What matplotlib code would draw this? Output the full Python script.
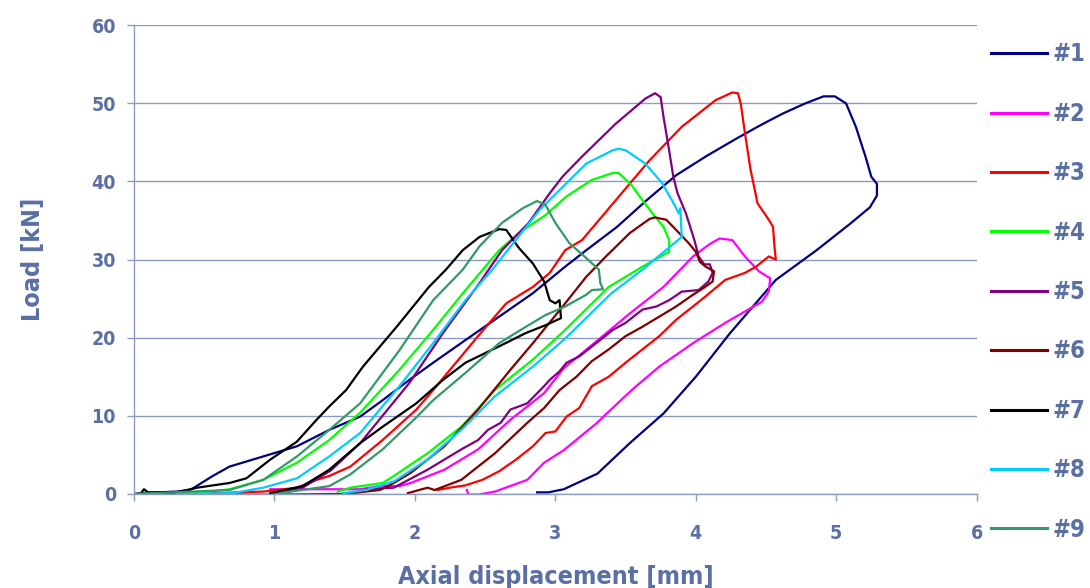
import matplotlib
matplotlib.use("Agg")
import matplotlib.pyplot as plt

x1 = [0.05, 0.30, 0.40, 0.56, 0.68, 0.92, 1.16, 1.39, 1.61, 1.77, 1.96, 2.13, 2.36, 2.60, 2.84, 3.07, 3.22,
      3.44, 3.65, 3.86, 4.08, 4.29, 4.46, 4.62, 4.78, 4.91, 4.99, 5.07, 5.14, 5.21, 5.25, 5.29, 5.29, 5.24,
      5.10, 4.86, 4.57, 4.24, 4.00, 3.77, 3.53, 3.30, 3.06, 2.95, 2.87]
y1 = [0.1, 0.3, 0.5, 2.3, 3.5, 4.8, 6.1, 8.2, 9.9, 12.0, 14.6, 16.8, 19.7, 22.7, 25.7, 29.1, 31.2,
      34.2, 37.6, 40.8, 43.3, 45.5, 47.2, 48.7, 50.0, 50.9, 50.9, 50.0, 47.0, 43.1, 40.6, 39.7, 38.2, 36.7,
      34.6, 31.2, 27.4, 20.5, 15.0, 10.3, 6.5, 2.6, 0.6, 0.2, 0.2]

x2 = [0.97, 1.30, 1.61, 1.75, 1.89, 1.97, 2.21, 2.45, 2.68, 2.92, 3.06, 3.29, 3.53, 3.77, 3.98, 4.10, 4.17,
      4.26, 4.35, 4.45, 4.53, 4.52, 4.47, 4.21, 3.98, 3.74, 3.55, 3.29, 3.06, 2.92, 2.80, 2.57, 2.45, 2.38, 2.37]
y2 = [0.6, 0.6, 0.6, 1.0, 1.0, 1.4, 3.1, 5.7, 9.5, 12.9, 16.1, 19.5, 23.1, 26.5, 30.4, 32.0, 32.7,
      32.5, 30.4, 28.5, 27.6, 25.9, 24.6, 21.9, 19.3, 16.3, 13.4, 9.0, 5.6, 4.0, 1.8, 0.3, -0.1, -0.1, 0.5]

x3 = [0.40, 0.92, 1.16, 1.30, 1.39, 1.54, 1.77, 2.01, 2.13, 2.44, 2.65, 2.84, 2.96, 3.07, 3.19, 3.43, 3.67,
      3.90, 4.14, 4.26, 4.30, 4.32, 4.35, 4.39, 4.44, 4.52, 4.55, 4.56, 4.57, 4.52, 4.43, 4.35, 4.21, 4.07,
      3.98, 3.86, 3.74, 3.62, 3.50, 3.38, 3.26, 3.17, 3.08, 3.00, 2.93, 2.84, 2.72, 2.60, 2.48, 2.36, 2.25, 2.16]
y3 = [0.0, 0.3, 0.8, 1.8, 2.3, 3.5, 6.9, 10.8, 13.3, 20.0, 24.4, 26.5, 28.3, 31.2, 32.5, 37.6, 42.7,
      47.0, 50.4, 51.4, 51.3, 50.0, 46.2, 41.5, 37.2, 35.1, 34.2, 31.7, 30.0, 30.4, 29.1, 28.3, 27.4, 25.3,
      24.0, 22.3, 20.2, 18.5, 16.8, 15.0, 13.8, 11.0, 9.9, 8.0, 7.8, 6.1, 4.4, 2.9, 1.8, 1.1, 0.8, 0.5]

x4 = [0.00, 0.45, 0.68, 0.92, 1.16, 1.39, 1.61, 1.89, 2.13, 2.36, 2.60, 2.74, 2.93, 3.08, 3.26, 3.41, 3.45,
      3.54, 3.62, 3.71, 3.77, 3.81, 3.81, 3.62, 3.38, 3.07, 2.84, 2.57, 2.33, 2.09, 1.85, 1.77, 1.54, 1.45]
y4 = [0.0, 0.1, 0.6, 1.8, 4.0, 6.9, 10.4, 15.9, 21.0, 26.1, 31.2, 33.4, 35.7, 38.1, 40.2, 41.1, 41.1,
      39.6, 37.6, 35.5, 34.2, 32.5, 31.0, 29.1, 26.5, 21.0, 17.2, 13.3, 8.6, 5.2, 2.3, 1.4, 0.8, 0.3]

x5 = [1.00, 1.20, 1.40, 1.61, 1.96, 2.20, 2.46, 2.62, 2.81, 2.96, 3.05, 3.19, 3.43, 3.64, 3.71, 3.75, 3.77,
      3.81, 3.84, 3.87, 3.93, 3.99, 4.02, 4.06, 4.10, 4.12, 4.09, 4.02, 3.90, 3.81, 3.72, 3.62, 3.50, 3.41,
      3.29, 3.17, 3.08, 3.03, 2.96, 2.92, 2.80, 2.68, 2.61, 2.52, 2.45, 2.33, 2.09, 1.85, 1.65]
y5 = [0.2, 0.8, 3.0, 6.5, 14.2, 20.6, 27.0, 31.2, 34.7, 38.5, 40.6, 43.2, 47.4, 50.6, 51.3, 50.8, 48.3,
      44.0, 40.6, 38.5, 35.9, 32.5, 30.4, 29.4, 29.4, 28.3, 27.2, 26.1, 25.9, 24.8, 24.0, 23.6, 21.9, 21.0,
      19.3, 17.6, 16.8, 15.7, 14.6, 13.8, 11.6, 10.8, 9.1, 8.2, 6.9, 5.7, 3.1, 0.8, 0.6]

x6 = [0.00, 1.00, 1.50, 1.75, 1.85, 1.97, 2.21, 2.45, 2.68, 2.84, 3.07, 3.22, 3.36, 3.53, 3.67, 3.71, 3.79,
      3.86, 3.95, 4.00, 4.03, 4.07, 4.13, 4.12, 4.05, 3.98, 3.86, 3.74, 3.62, 3.50, 3.38, 3.26, 3.15, 3.03,
      2.92, 2.80, 2.57, 2.33, 2.14, 2.09, 1.95]
y6 = [-0.1, -0.1, 0.0, 0.5, 1.4, 2.7, 6.1, 10.8, 15.9, 19.3, 24.4, 27.8, 30.4, 33.4, 35.2, 35.4, 35.1,
      33.8, 32.1, 31.0, 29.7, 29.1, 28.5, 27.2, 26.3, 25.5, 24.0, 22.7, 21.4, 20.2, 18.5, 17.0, 15.0, 13.3,
      11.0, 9.1, 5.2, 1.8, 0.5, 0.8, 0.1]

x7 = [0.00, 0.05, 0.07, 0.10, 0.30, 0.45, 0.68, 0.80, 0.97, 1.16, 1.30, 1.39, 1.51, 1.63, 1.87, 2.10, 2.22,
      2.34, 2.46, 2.60, 2.65, 2.74, 2.84, 2.92, 2.96, 3.00, 3.03, 3.04, 2.93, 2.79, 2.60, 2.36, 2.20, 2.01,
      1.77, 1.61, 1.39, 1.20, 0.97]
y7 = [0.0, 0.1, 0.6, 0.2, 0.2, 0.8, 1.4, 2.0, 4.4, 6.7, 9.5, 11.2, 13.3, 16.3, 21.4, 26.5, 28.7,
      31.2, 32.9, 33.9, 33.8, 31.5, 29.5, 27.2, 24.8, 24.4, 24.8, 22.5, 21.6, 20.6, 18.9, 16.8, 14.6, 11.6,
      8.6, 6.5, 3.1, 1.0, 0.1]

x8 = [0.30, 0.70, 0.92, 1.16, 1.39, 1.61, 1.89, 2.13, 2.36, 2.55, 2.70, 2.89, 3.08, 3.22, 3.41, 3.45, 3.50,
      3.64, 3.76, 3.83, 3.88, 3.89, 3.90, 3.62, 3.40, 3.07, 2.84, 2.57, 2.33, 2.09, 1.85, 1.65, 1.49]
y8 = [0.0, 0.1, 0.8, 2.0, 4.8, 7.8, 13.8, 19.3, 24.8, 28.7, 32.1, 36.4, 39.8, 42.3, 44.0, 44.2, 44.0,
      42.3, 39.8, 37.6, 35.9, 36.6, 32.9, 28.7, 25.7, 19.9, 16.3, 12.5, 8.2, 4.4, 1.6, 0.5, 0.1]

x9 = [0.00, 0.68, 0.92, 1.16, 1.39, 1.61, 1.89, 2.13, 2.34, 2.46, 2.62, 2.77, 2.87, 2.93, 3.00, 3.10, 3.22,
      3.31, 3.32, 3.34, 3.26, 3.22, 3.07, 2.93, 2.79, 2.60, 2.36, 2.13, 2.01, 1.77, 1.54, 1.39, 1.04]
y9 = [0.0, 0.5, 1.8, 4.8, 8.2, 11.6, 18.4, 24.8, 28.7, 31.7, 34.7, 36.6, 37.5, 37.0, 34.7, 32.1, 30.2,
      28.7, 27.0, 26.2, 26.1, 25.5, 24.0, 22.9, 21.4, 19.3, 15.5, 12.0, 9.8, 5.7, 2.5, 1.0, 0.1]

serien = [(x1, y1), (x2, y2), (x3, y3), (x4, y4), (x5, y5), (x6, y6), (x7, y7), (x8, y8), (x9, y9)]
namen = ['#1', '#2', '#3', '#4', '#5', '#6', '#7', '#8', '#9']
farben = ['#000080', '#FF00FF', '#FF0000', '#00FF00', '#800080', '#800000', '#000000', '#00CCFF', '#339966']

textfarbe = '#5A6FA3'
gitter = '#8C9BC0'
schrift = ['DejaVu Sans']

fig = plt.figure(figsize=(10.9, 5.88), dpi=100)
ax = fig.add_axes([0.123, 0.160, 0.773, 0.797])

for (xs, ys), name, farbe in zip(serien, namen, farben):
    ax.plot(xs, ys, color=farbe, lw=1.6, label=name)

ax.set_xlim(0, 6)
ax.set_ylim(0, 60)
ax.set_xticks(range(0, 7))
ax.set_yticks(range(0, 61, 10))
ax.yaxis.grid(True, color=gitter, lw=1)
ax.set_axisbelow(True)

for s in ['top', 'right']:
    ax.spines[s].set_visible(False)
for s in ['left', 'bottom']:
    ax.spines[s].set_color(gitter)
    ax.spines[s].set_linewidth(1)

ax.tick_params(axis='both', colors=gitter, length=5, width=1, labelcolor=textfarbe, labelsize=14)
ax.tick_params(axis='x', pad=17)
ax.tick_params(axis='y', pad=8)
for lbl in ax.get_xticklabels() + ax.get_yticklabels():
    lbl.set_family(schrift)
    lbl.set_fontstretch('condensed')
    lbl.set_fontweight('bold')

ax.set_xlabel('Axial displacement [mm]', color=textfarbe, fontsize=18, fontweight='bold',
              family=schrift, fontstretch='condensed')
ax.set_ylabel('Load [kN]', color=textfarbe, fontsize=18, fontweight='bold', family=schrift,
              fontstretch='condensed')
ax.xaxis.set_label_coords(0.5, -0.152)
ax.yaxis.set_label_coords(-0.106, 0.5)

leg = fig.legend(loc='upper left', bbox_to_anchor=(0.9006, 0.944), frameon=False,
                 handlelength=2.37, handletextpad=0.25, labelspacing=1.50, borderaxespad=0,
                 prop={'family': schrift, 'weight': 'bold', 'size': 17, 'stretch': 'condensed'})
for t in leg.get_texts():
    t.set_color(textfarbe)
for l in leg.get_lines():
    l.set_linewidth(2.2)

fig.savefig('out.png', dpi=100)
